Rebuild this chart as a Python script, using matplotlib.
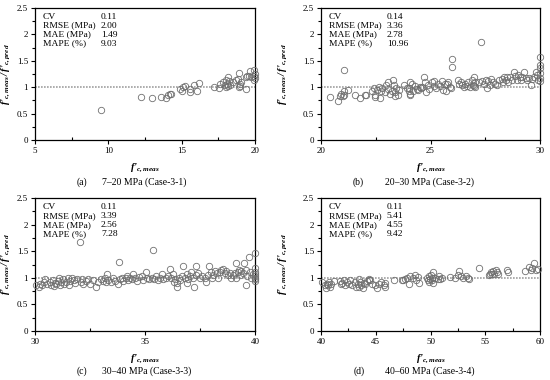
import matplotlib
matplotlib.use("Agg")
import matplotlib.pyplot as plt
from matplotlib.ticker import MultipleLocator

plt.rcParams['font.family'] = ['Liberation Serif', 'DejaVu Serif']
plt.rcParams['mathtext.fontset'] = 'custom'
plt.rcParams['mathtext.it'] = 'Liberation Serif:italic:bold'
plt.rcParams['mathtext.rm'] = 'Liberation Serif:italic:bold'
plt.rcParams['mathtext.bf'] = 'Liberation Serif:bold'

# ---------------- data ----------------
a_x = [9.5, 12.2, 13.0, 13.56, 13.9, 14.08, 14.2, 14.3, 14.9, 15.0, 15.06, 15.2, 15.56, 15.56,
       15.85, 16.05, 16.2, 17.2, 17.55, 17.6, 17.8, 17.96, 18.0, 18.05, 18.1, 18.15, 18.15, 18.2,
       18.27, 18.5, 18.73, 18.87, 18.9, 18.9, 18.96, 19.0, 19.07, 19.37, 19.4, 19.45, 19.6, 19.68,
       19.75, 19.9, 19.9, 19.9, 19.98, 20.0]
a_y = [0.56, 0.81, 0.80, 0.82, 0.79, 0.85, 0.88, 0.87, 0.96, 0.92, 1.0, 1.02, 0.96, 0.90,
       1.05, 0.93, 1.08, 1.01, 0.99, 1.07, 1.10, 1.04, 1.14, 1.0, 1.07, 1.20, 1.02, 1.11,
       1.05, 1.10, 1.14, 1.16, 1.26, 1.0, 1.07, 1.02, 1.10, 1.20, 0.96, 1.21, 1.21, 1.31,
       1.19, 1.33, 1.21, 1.14, 1.17, 1.25]

b_x = [20.43, 20.76, 20.85, 20.93, 21.0, 21.03, 21.03, 21.03, 21.23, 21.53, 21.78, 22.02, 22.05,
       22.32, 22.4, 22.45, 22.48, 22.55, 22.63, 22.7, 22.75, 22.8, 22.93, 22.98, 23.05, 23.08,
       23.16, 23.24, 23.3, 23.33, 23.36, 23.39, 23.42, 23.5, 23.54, 23.77, 23.92, 24.0, 24.03,
       24.05, 24.06, 24.07, 24.15, 24.18, 24.27, 24.38, 24.45, 24.5, 24.56, 24.6, 24.72, 24.76,
       24.8, 24.88, 24.94, 25.06, 25.14, 25.18, 25.24, 25.32, 25.44, 25.52, 25.56, 25.67, 25.7,
       25.74, 25.82, 25.87, 25.94, 26.0, 26.0, 26.25, 26.3, 26.4, 26.46, 26.52, 26.58, 26.65,
       26.73, 26.8, 26.88, 26.96, 27.0, 27.0, 27.04, 27.04, 27.2, 27.3, 27.34, 27.46, 27.52,
       27.57, 27.64, 27.72, 27.77, 27.87, 27.95, 28.02, 28.13, 28.25, 28.31, 28.37, 28.43, 28.5,
       28.55, 28.63, 28.74, 28.8, 28.86, 28.94, 29.0, 29.09, 29.13, 29.2, 29.29, 29.35, 29.42,
       29.51, 29.6, 29.65, 29.74, 29.8, 29.88, 29.92, 30.0, 30.0, 30.0, 30.0, 30.0, 30.0]
b_y = [0.82, 0.74, 0.83, 0.88, 0.84, 0.92, 0.86, 1.33, 0.95, 0.85, 0.79, 0.86, 0.85,
       0.92, 0.98, 0.85, 0.82, 0.95, 1.01, 0.80, 0.92, 0.98, 0.90, 1.04, 0.96, 1.09,
       0.88, 0.93, 1.14, 1.04, 0.91, 0.83, 0.98, 0.85, 0.95, 1.04, 0.98, 0.93, 0.98,
       1.09, 0.88, 0.85, 1.07, 0.93, 1.02, 0.96, 0.95, 1.0, 0.98, 1.01, 1.19, 1.10,
       0.90, 1.04, 0.96, 1.09, 1.02, 1.12, 0.98, 1.07, 1.02, 1.12, 0.95, 1.06, 0.93,
       1.07, 1.10, 1.01, 0.98, 1.53, 1.38, 1.14, 1.07, 1.10, 1.04, 1.0, 1.07, 1.02,
       1.10, 1.0, 1.14, 1.04, 1.19, 1.02, 1.0, 1.09, 1.10, 1.86, 1.12, 1.07, 1.14,
       0.98, 1.12, 1.04, 1.15, 1.10, 1.07, 1.04, 1.14, 1.16, 1.10, 1.19, 1.14, 1.20,
       1.10, 1.19, 1.14, 1.28, 1.21, 1.14, 1.23, 1.19, 1.14, 1.20, 1.28, 1.17, 1.14,
       1.17, 1.04, 1.15, 1.20, 1.28, 1.23, 1.14, 1.58, 1.42, 1.36, 1.26, 1.17, 1.12]

c_x = [30.06, 30.17, 30.24, 30.32, 30.39, 30.47, 30.54, 30.66, 30.73, 30.82, 30.85, 30.89, 30.97,
       31.03, 31.07, 31.12, 31.18, 31.27, 31.33, 31.42, 31.5, 31.53, 31.6, 31.68, 31.75, 31.83,
       31.9, 32.05, 32.08, 32.13, 32.2, 32.33, 32.43, 32.5, 32.63, 32.78, 32.88, 32.99, 33.1,
       33.19, 33.23, 33.26, 33.34, 33.44, 33.53, 33.64, 33.75, 33.84, 33.87, 33.94, 34.02, 34.14,
       34.2, 34.24, 34.32, 34.4, 34.47, 34.55, 34.65, 34.74, 34.85, 34.92, 35.03, 35.08, 35.2,
       35.3, 35.35, 35.4, 35.5, 35.6, 35.68, 35.76, 35.83, 35.95, 36.06, 36.14, 36.17, 36.25,
       36.31, 36.36, 36.44, 36.47, 36.53, 36.59, 36.66, 36.74, 36.81, 36.89, 36.93, 36.96, 37.04,
       37.11, 37.19, 37.24, 37.3, 37.34, 37.42, 37.52, 37.61, 37.72, 37.79, 37.87, 37.92, 37.98,
       38.04, 38.1, 38.17, 38.25, 38.32, 38.4, 38.47, 38.55, 38.62, 38.7, 38.78, 38.85, 38.93,
       39.0, 39.08, 39.12, 39.15, 39.23, 39.27, 39.34, 39.38, 39.46, 39.5, 39.58, 39.61, 39.64,
       39.73, 39.76, 39.83, 39.91, 40.0, 40.0, 40.0, 40.0, 40.0, 40.0, 40.0, 40.0]
c_y = [0.87, 0.83, 0.89, 0.86, 0.92, 0.97, 0.88, 0.92, 0.86, 0.95, 0.84, 0.90, 0.89,
       0.94, 1.0, 0.86, 0.92, 0.97, 0.88, 0.92, 0.99, 0.86, 0.94, 1.0, 0.95, 0.90,
       0.97, 1.68, 0.92, 0.97, 0.89, 0.94, 0.97, 0.89, 0.95, 0.82, 0.92, 0.97, 0.94,
       1.0, 0.92, 1.07, 0.95, 0.92, 0.99, 0.94, 0.89, 1.30, 0.97, 1.0, 0.94, 0.99,
       1.03, 0.95, 1.0, 0.97, 1.07, 0.99, 0.94, 1.02, 1.03, 0.95, 1.11, 1.0, 0.97,
       1.0, 1.53, 0.97, 1.03, 0.95, 1.0, 1.07, 0.97, 1.0, 1.03, 1.16, 1.0, 1.07,
       0.92, 0.97, 0.82, 0.90, 1.0, 0.95, 1.03, 1.22, 1.0, 1.07, 0.90, 0.97, 1.03,
       1.11, 1.0, 0.82, 1.22, 1.05, 1.09, 0.99, 1.03, 1.0, 0.92, 1.05, 1.22, 1.11,
       1.0, 1.05, 1.13, 1.09, 1.0, 1.11, 1.14, 1.17, 1.09, 1.13, 1.05, 1.09, 1.0,
       1.05, 1.09, 1.27, 1.0, 1.11, 1.14, 1.05, 1.13, 1.09, 1.28, 1.14, 0.86, 1.03,
       1.39, 1.11, 1.0, 1.08, 1.47, 1.19, 1.11, 1.07, 1.03, 1.0, 0.97, 0.94]

d_x = [40.09, 40.33, 40.46, 40.55, 40.64, 40.7, 40.85, 40.94, 41.15, 41.76, 41.85, 41.91, 42.07,
       42.22, 42.37, 42.52, 42.67, 42.83, 43.07, 43.19, 43.37, 43.43, 43.5, 43.59, 43.68, 43.8,
       43.89, 44.04, 44.2, 44.35, 44.41, 44.5, 44.65, 44.9, 45.1, 45.32, 45.5, 45.71, 45.8,
       45.87, 46.63, 47.39, 47.48, 47.63, 47.84, 48.0, 48.15, 48.36, 48.54, 48.66, 48.84, 48.96,
       49.67, 49.76, 49.82, 49.88, 49.97, 50.06, 50.12, 50.18, 50.27, 50.27, 50.43, 50.67, 50.79,
       50.88, 51.03, 51.79, 52.25, 52.5, 52.61, 52.8, 53.0, 53.22, 53.4, 53.53, 54.44, 55.3,
       55.44, 55.5, 55.6, 55.75, 55.84, 55.96, 56.05, 56.14, 56.96, 57.05, 58.63, 59.0, 59.18,
       59.3, 59.48, 59.6, 59.79]
d_y = [0.92, 0.86, 0.80, 0.89, 0.86, 0.92, 0.83, 0.88, 0.94, 0.94, 0.88, 0.91, 0.95,
       0.86, 0.92, 0.89, 0.95, 0.87, 0.92, 0.83, 0.89, 0.98, 0.83, 0.92, 0.86, 0.80,
       0.90, 0.88, 0.94, 0.96, 0.98, 0.95, 0.89, 0.86, 0.80, 0.89, 0.92, 0.86, 0.82,
       0.90, 0.95, 0.95, 0.96, 0.98, 1.0, 0.88, 1.03, 1.0, 1.05, 0.95, 1.01, 0.90,
       1.0, 0.95, 1.03, 0.92, 0.98, 1.05, 0.95, 1.0, 1.10, 0.90, 1.0, 0.98, 1.03,
       0.97, 1.0, 1.02, 1.0, 1.05, 1.12, 1.03, 1.0, 1.03, 1.0, 0.98, 1.19, 1.05,
       1.08, 1.10, 1.08, 1.12, 1.08, 1.14, 1.10, 1.08, 1.14, 1.10, 1.12, 1.21, 1.14,
       1.18, 1.27, 1.14, 1.17]

panels = [
    dict(x=a_x, y=a_y, xlim=(5, 20), major=5, stats=['0.11', '2.00', '1.49', '9.03'],
         tag='(a)', cap='7\u201320 MPa (Case-3-1)'),
    dict(x=b_x, y=b_y, xlim=(20, 30), major=5, stats=['0.14', '3.36', '2.78', '10.96'],
         tag='(b)', cap='20\u201330 MPa (Case-3-2)'),
    dict(x=c_x, y=c_y, xlim=(30, 40), major=5, stats=['0.11', '3.39', '2.56', '7.28'],
         tag='(c)', cap='30\u201340 MPa (Case-3-3)'),
    dict(x=d_x, y=d_y, xlim=(40, 60), major=5, stats=['0.11', '5.41', '4.55', '9.42'],
         tag='(d)', cap='40\u201360 MPa (Case-3-4)'),
]
stat_names = ['CV', 'RMSE (MPa)', 'MAE (MPa)', 'MAPE (%)']

W, H = 550, 380
fig = plt.figure(figsize=(5.5, 3.8), dpi=100)

# axes boxes in pixels: left, right, top, bottom
boxes = [(35, 255, 8, 140), (321, 540, 8, 140), (35, 255, 198, 331), (321, 540, 198, 331)]
caps_px = [(77, 102, 182), (353, 385, 182), (77, 102, 371), (354, 385, 371)]
ylab_px = [13, 290, 13, 290]

xl = r"$f\text{'}_{c,meas}$"
yl = r"$f\text{'}_{c,meas}\,/\,f\text{'}_{c,pred}$"

for i, p in enumerate(panels):
    l, r, t, b = boxes[i]
    ax = fig.add_axes([l / W, 1 - b / H, (r - l) / W, (b - t) / H])
    ax.axhline(1.0, color='#a0a0a0', lw=1.2, ls=(0, (1, 0.8)), zorder=1)
    ax.plot(p['x'], p['y'], ls='none', marker='o', ms=4.6, mfc='none',
            mec='#707070', mew=0.6, zorder=3, clip_on=False)
    ax.set_xlim(*p['xlim'])
    ax.set_ylim(0, 2.5)
    ax.xaxis.set_major_locator(MultipleLocator(p['major']))
    ax.xaxis.set_minor_locator(MultipleLocator(p['major'] / 2))
    ax.yaxis.set_major_locator(MultipleLocator(0.5))
    ax.yaxis.set_minor_locator(MultipleLocator(0.25))
    ax.yaxis.set_major_formatter(plt.FuncFormatter(lambda v, pos: f'{v:g}'))
    ax.tick_params(axis='both', which='major', labelsize=6.5, length=3, width=0.8,
                   direction='out', pad=2)
    ax.tick_params(axis='x', which='minor', length=2.5, width=0.8, direction='in')
    ax.tick_params(axis='y', which='minor', length=2.5, width=0.8, direction='out')
    for s in ax.spines.values():
        s.set_linewidth(0.9)
        s.set_color('black')
    for k, (nm, val) in enumerate(zip(stat_names, p['stats'])):
        yy = 0.935 - k * 0.068
        ax.text(0.035, yy, nm, transform=ax.transAxes, fontsize=6.8, va='center', ha='left')
        ax.text(0.30, yy, val, transform=ax.transAxes, fontsize=6.8, va='center', ha='left')
    ax.set_xlabel(xl, fontsize=7.5)
    ax.xaxis.set_label_coords(0.5, -0.16)
    ax.set_ylabel(yl, fontsize=7.5)
    ylx = (ylab_px[i] - l) / (r - l)
    ax.yaxis.set_label_coords(ylx, 0.5)
    tx, cx, cy = caps_px[i]
    fig.text(tx / W, 1 - cy / H, p['tag'], fontsize=7, va='center', ha='left')
    fig.text(cx / W, 1 - cy / H, p['cap'], fontsize=7, va='center', ha='left')

fig.savefig('out.png', dpi=100)
